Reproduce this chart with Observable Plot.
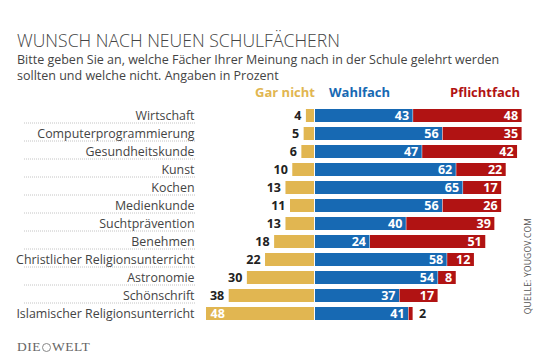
<!DOCTYPE html>
<html><head><meta charset="utf-8">
<script src="https://cdn.jsdelivr.net/npm/d3@7"></script>
<script src="https://cdn.jsdelivr.net/npm/@observablehq/plot@0.6"></script>
<style>
body{margin:0;width:540px;height:360px;position:relative;overflow:hidden;background:#fff;font-family:"Open Sans",sans-serif;}
.abs{position:absolute;white-space:nowrap;}
#title{left:17px;top:30px;font-size:17.6px;line-height:20px;font-weight:300;color:#444;}
#sub{left:17px;top:52px;font-size:12.5px;line-height:15.5px;color:#444;}
.leg{top:84px;font-size:13px;line-height:16px;font-weight:700;}
#chart{position:absolute;left:0;top:104px;}
#logo{left:17px;top:340px;font-family:"Liberation Serif","DejaVu Serif",serif;font-size:13.5px;line-height:14px;color:#666;letter-spacing:0.5px;}
#src{left:527px;top:266px;font-size:8.5px;color:#555;transform:translate(-50%,-50%) rotate(-90deg);transform-origin:center;letter-spacing:0.2px;}
</style></head>
<body>
<div id="title" class="abs">WUNSCH NACH NEUEN SCHULFÄCHERN</div>
<div id="sub" class="abs">Bitte geben Sie an, welche Fächer Ihrer Meinung nach in der Schule gelehrt werden<br>sollten und welche nicht. Angaben in Prozent</div>
<div id="chart"></div>
<div id="logo" class="abs">DIE<span style="display:inline-block;width:9px;height:9px;border:1.5px solid #888;border-radius:50%;margin:0 1px;vertical-align:-1px;box-sizing:border-box"></span>WELT</div>
<div id="src" class="abs">QUELLE: YOUGOV.COM</div>
<script>
const subjects = ["Wirtschaft","Computerprogrammierung","Gesundheitskunde","Kunst","Kochen","Medienkunde","Suchtprävention","Benehmen","Christlicher Religionsunterricht","Astronomie","Schönschrift","Islamischer Religionsunterricht"];
const garNicht = [4,5,6,10,13,11,13,18,22,30,38,48];
const wahlfach = [43,56,47,62,65,56,40,24,58,54,37,41];
const pflichtfach = [48,35,42,22,17,26,39,51,12,8,17,2];
const seriesNames = ["Gar nicht","Wahlfach","Pflichtfach"];
const colors = ["#E1B651","#1769B3","#B11313"];

const rows = subjects.map((s,i)=>({s, g:garNicht[i], w:wahlfach[i], p:pflichtfach[i]}));
const font = "Open Sans";

const plot = Plot.plot({
  width:540, height:226,
  marginTop:2, marginBottom:5.8, marginLeft:206, marginRight:18.4,
  x:{domain:[-d3.max(garNicht), d3.max(rows, d=>d.w+d.p)], axis:null},
  y:{domain:subjects, paddingInner:0.26, paddingOuter:0.13, label:null},
  style:{fontFamily:font},
  marks:[
    Plot.axisY({ticks:subjects.slice(0,-1), text:null, tickSize:172, dx:-11, dy:7, stroke:"#c4c4c4", strokeDasharray:"1,1"}),
    Plot.axisY({tickSize:0, tickPadding:12, fontSize:12.4, fill:"#444", label:null}),
    Plot.barX(rows,{y:"s", x1:d=>-d.g, x2:0, fill:colors[0], insetRight:1}),
    Plot.barX(rows,{y:"s", x1:0, x2:"w", fill:colors[1]}),
    Plot.barX(rows,{y:"s", x1:"w", x2:d=>d.w+d.p, fill:colors[2], insetLeft:0.5}),
    Plot.text(rows.filter(d=>d.g<40),{y:"s", x:d=>-d.g, text:"g", textAnchor:"end", dx:-5, fill:"#222", fontWeight:700, fontSize:12.5}),
    Plot.text(rows.filter(d=>d.g>=40),{y:"s", x:d=>-d.g, text:"g", textAnchor:"start", dx:4, fill:"#fff", fontWeight:700, fontSize:12.5}),
    Plot.text(rows,{y:"s", x:"w", text:"w", textAnchor:"end", dx:-4, fill:"#fff", fontWeight:700, fontSize:12.5}),
    Plot.text(rows.filter(d=>d.p>=5),{y:"s", x:d=>d.w+d.p, text:"p", textAnchor:"end", dx:-4, fill:"#fff", fontWeight:700, fontSize:12.5}),
    Plot.text(rows.filter(d=>d.p<5),{y:"s", x:d=>d.w+d.p, text:"p", textAnchor:"start", dx:6, fill:"#222", fontWeight:700, fontSize:12.5})
  ]
});
document.getElementById("chart").appendChild(plot);

const xs = plot.scale("x");
const x0 = xs.apply(0), xMax = xs.apply(xs.domain[1]);
function leg(text,color,style){
  const d=document.createElement("div");
  d.className="abs leg"; d.textContent=text; d.style.color=color;
  Object.assign(d.style,style);
  document.body.appendChild(d);
}
leg(seriesNames[0], colors[0], {right:(540-x0)+"px"});
leg(seriesNames[1], colors[1], {left:(x0+14)+"px"});
leg(seriesNames[2], colors[2], {right:(540-xMax+1.5)+"px"});
</script>
</body></html>
